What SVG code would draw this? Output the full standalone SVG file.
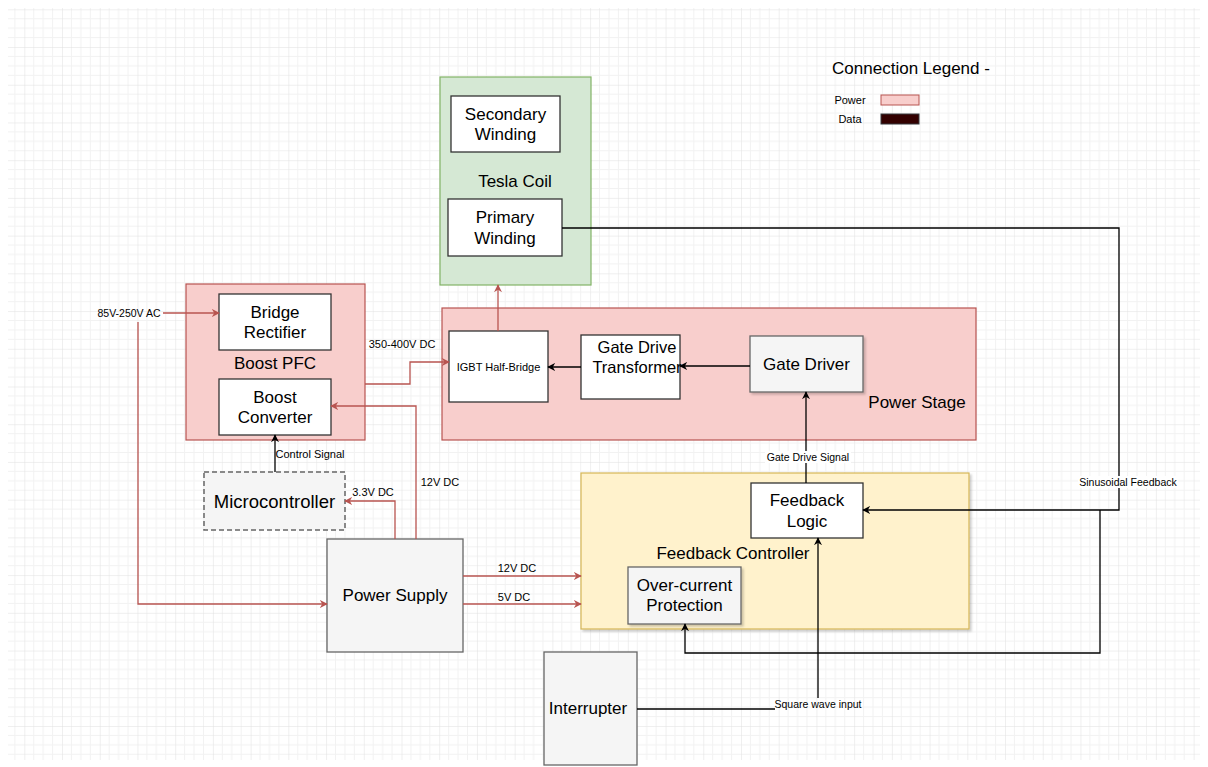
<svg xmlns="http://www.w3.org/2000/svg" width="1208" height="767" viewBox="0 0 1208 767">
<defs>
<pattern id="grid" patternUnits="userSpaceOnUse" x="24.3" y="9.3" width="37.72" height="37.72">
<path d="M9.43 0V37.72M18.86 0V37.72M28.29 0V37.72M0 9.43H37.72M0 18.86H37.72M0 28.29H37.72" stroke="#f2f2f2" stroke-width="1" fill="none"/>
<path d="M0 0V37.72M0 0H37.72" stroke="#e0e0e0" stroke-width="1" fill="none"/>
</pattern>
<marker id="ar" viewBox="0 0 10 10" refX="9" refY="5" markerWidth="8" markerHeight="8" markerUnits="userSpaceOnUse" orient="auto"><path d="M0 0L10 5L0 10L3 5Z" fill="#b85450"/></marker>
<marker id="ab" viewBox="0 0 10 10" refX="9" refY="5" markerWidth="8" markerHeight="8" markerUnits="userSpaceOnUse" orient="auto"><path d="M0 0L10 5L0 10L3 5Z" fill="#000"/></marker>
<filter id="sh" x="-5%" y="-5%" width="115%" height="115%"><feDropShadow dx="2" dy="2" stdDeviation="1.2" flood-color="#000" flood-opacity="0.2"/></filter>
</defs>
<style>
text{font-family:"Liberation Sans",Arial,sans-serif;fill:#000;text-anchor:middle;dominant-baseline:central}
.b{font-size:17px}
.s{font-size:11px}
.wh{fill:#fff;stroke:#333;stroke-width:1.3}
.gr{fill:#f5f5f5;stroke:#666;stroke-width:1.3}
.red{fill:#f8cecc;stroke:#b85450;stroke-width:1.2}
.grn{fill:#d5e8d4;stroke:#82b366;stroke-width:1.2}
.yel{fill:#fff2cc;stroke:#d6b656;stroke-width:1.2}
.pw{fill:none;stroke:#b85450;stroke-width:1.3}
.dt{fill:none;stroke:#000;stroke-width:1.3}
.lb{fill:#fff}
</style>
<rect width="1208" height="767" fill="#fff"/>
<rect x="8" y="8" width="1192" height="752" fill="url(#grid)"/>

<g id="legend">
<text x="911" y="68" style="font-size:17px">Connection Legend -</text>
<text x="850" y="100" class="s">Power</text>
<rect x="881" y="95" width="38" height="10" fill="#f8cecc" stroke="#b85450"/>
<text x="850" y="119" class="s">Data</text>
<rect x="881" y="114" width="38" height="10" fill="#330000" stroke="#36393d"/>
</g>

<g id="tesla-coil">
<rect x="440" y="77" width="151" height="208" class="grn"/>
<text x="515" y="181" class="b">Tesla Coil</text>
</g>
<g id="secondary-winding">
<rect x="451" y="96" width="109" height="56" class="wh"/>
<text x="505.5" y="114" class="b">Secondary</text>
<text x="505.5" y="134" class="b">Winding</text>
</g>
<g id="primary-winding">
<rect x="448" y="199" width="114" height="57" class="wh"/>
<text x="505" y="217" class="b">Primary</text>
<text x="505" y="238" class="b">Winding</text>
</g>

<g id="power-stage">
<rect x="442" y="308" width="534" height="132" class="red"/>
<text x="917" y="402" class="b">Power Stage</text>
</g>
<g id="igbt">
<rect x="449" y="331" width="99" height="71" class="wh"/>
<text x="498.5" y="367" class="s">IGBT Half-Bridge</text>
</g>
<g id="gate-drive-transformer">
<rect x="581" y="335" width="99" height="64" class="wh"/>
<text x="637" y="347" style="font-size:16.5px">Gate Drive</text>
<text x="637" y="367" style="font-size:16.5px">Transformer</text>
</g>
<g id="gate-driver">
<rect x="750" y="336" width="113" height="56" class="gr" filter="url(#sh)"/>
<text x="806.5" y="364" class="b">Gate Driver</text>
</g>

<g id="boost-pfc">
<rect x="186" y="284" width="179" height="156" class="red"/>
<text x="275" y="363" class="b">Boost PFC</text>
</g>
<g id="bridge-rectifier">
<rect x="219" y="294" width="112" height="56" class="wh"/>
<text x="275" y="312" class="b">Bridge</text>
<text x="275" y="332" class="b">Rectifier</text>
</g>
<g id="boost-converter">
<rect x="219" y="379" width="112" height="56" class="wh"/>
<text x="275" y="397" class="b">Boost</text>
<text x="275" y="417" class="b">Converter</text>
</g>

<g id="microcontroller">
<rect x="204" y="472" width="141" height="58" fill="#f5f5f5" stroke="#666" stroke-width="1.5" stroke-dasharray="5 3"/>
<text x="274.5" y="501" style="font-size:18.5px">Microcontroller</text>
</g>
<g id="power-supply">
<rect x="327" y="539" width="136" height="113" class="gr"/>
<text x="395" y="595" class="b">Power Supply</text>
</g>

<g id="feedback-controller">
<rect x="581" y="473" width="388" height="156" class="yel" filter="url(#sh)"/>
<text x="733" y="553" class="b">Feedback Controller</text>
</g>
<g id="feedback-logic">
<rect x="751" y="483" width="112" height="55" class="wh"/>
<text x="807" y="500" class="b">Feedback</text>
<text x="807" y="521" class="b">Logic</text>
</g>
<g id="over-current">
<rect x="628" y="567" width="113" height="57" class="gr" filter="url(#sh)"/>
<text x="684.5" y="585" class="b">Over-current</text>
<text x="684.5" y="605" class="b">Protection</text>
</g>
<g id="interrupter">
<rect x="544" y="652" width="93" height="113" class="gr"/>
<text x="588" y="708" class="b">Interrupter</text>
</g>

<g id="connectors">
<path d="M163 313H219" class="pw" marker-end="url(#ar)"/>
<path d="M138 322V604H327" class="pw" marker-end="url(#ar)"/>
<path d="M365 384H410V362H449" class="pw" marker-end="url(#ar)"/>
<path d="M498 331V285" class="pw" marker-end="url(#ar)"/>
<path d="M416 539V406H331" class="pw" marker-end="url(#ar)"/>
<path d="M395 539V501H345" class="pw" marker-end="url(#ar)"/>
<path d="M463 576H581" class="pw" marker-end="url(#ar)"/>
<path d="M463 604H581" class="pw" marker-end="url(#ar)"/>
<path d="M581 367H548" class="dt" marker-end="url(#ab)"/>
<path d="M750 366H680" class="dt" marker-end="url(#ab)"/>
<path d="M806 483V392" class="dt" marker-end="url(#ab)"/>
<path d="M275 472V435" class="dt" marker-end="url(#ab)"/>
<path d="M562 228H1119V510H863" class="dt" marker-end="url(#ab)"/>
<path d="M1100 510V653H685V624" class="dt" marker-end="url(#ab)"/>
<path d="M637 709H775" class="dt"/>
<path d="M818 698V538" class="dt" marker-end="url(#ab)"/>
<text x="129" y="313" style="font-size:10.5px">85V-250V AC</text>
<text x="402" y="344" class="s">350-400V DC</text>
<text x="440" y="482" class="s">12V DC</text>
<text x="373" y="492" class="s">3.3V DC</text>
<text x="517" y="568" class="s">12V DC</text>
<text x="514" y="597" class="s">5V DC</text>
<rect x="765" y="451" width="86" height="12" class="lb"/>
<text x="808" y="457" style="font-size:10.5px">Gate Drive Signal</text>
<text x="310" y="454" class="s">Control Signal</text>
<rect x="1078" y="476" width="100" height="12" class="lb"/>
<text x="1128" y="482" style="font-size:10.5px">Sinusoidal Feedback</text>
<text x="818" y="704" style="font-size:10.5px">Square wave input</text>
</g>
</svg>
